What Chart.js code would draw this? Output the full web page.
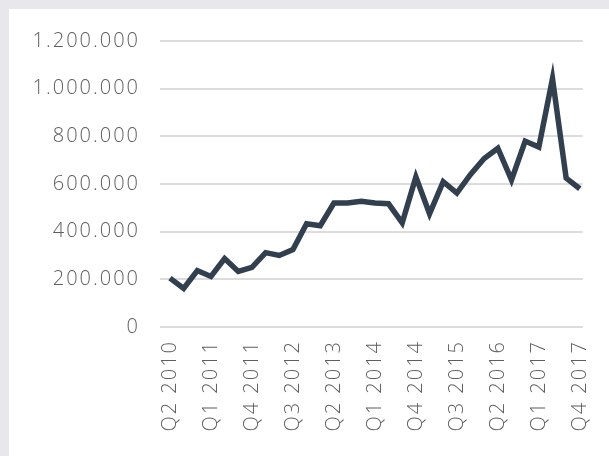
<!DOCTYPE html>
<html lang="de">
<head>
    <meta charset="UTF-8">
    <title>Quarterly values</title>
    <style>
        * { margin: 0; padding: 0; box-sizing: border-box; }
        body { background-color: #e8e7ec; width: 609px; height: 456px; overflow: hidden; }
        .panel {
            position: absolute;
            left: 9px;
            top: 9px;
            width: 600px;
            height: 447px;
            background-color: #ffffff;
        }
        canvas { display: block; }
    </style>
</head>
<body>
    <div class="panel">
        <canvas id="chart" width="600" height="447"></canvas>
    </div>

    <script src="https://cdn.jsdelivr.net/npm/chart.js"></script>
    <script>
        // quarters Q2 2010 .. Q4 2017
        const quarters = [
            'Q2 2010', 'Q3 2010', 'Q4 2010',
            'Q1 2011', 'Q2 2011', 'Q3 2011', 'Q4 2011',
            'Q1 2012', 'Q2 2012', 'Q3 2012', 'Q4 2012',
            'Q1 2013', 'Q2 2013', 'Q3 2013', 'Q4 2013',
            'Q1 2014', 'Q2 2014', 'Q3 2014', 'Q4 2014',
            'Q1 2015', 'Q2 2015', 'Q3 2015', 'Q4 2015',
            'Q1 2016', 'Q2 2016', 'Q3 2016', 'Q4 2016',
            'Q1 2017', 'Q2 2017', 'Q3 2017', 'Q4 2017'
        ];

        const values = [
            205000, 162000, 237000,
            212000, 287000, 233000, 250000,
            312000, 300000, 325000, 433000,
            425000, 520000, 520000, 528000,
            520000, 517000, 437000, 630000,
            475000, 610000, 562000, 640000,
            707000, 750000, 617000, 780000,
            755000, 1042000, 625000, 580000
        ];

        const yTicks = [0, 200000, 400000, 600000, 800000, 1000000, 1200000];
        const labelEvery = 3;

        const textColor = '#5e5e5e';
        const lineColor = '#323f4f';
        const gridColor = '#dcdcdc';

        function formatDots(v) {
            return String(v).replace(/\B(?=(\d{3})+(?!\d))/g, '.');
        }

        // letter spacing to get closer to the wide reference font
        const spacing = {
            id: 'spacing',
            beforeUpdate(chart) { chart.ctx.letterSpacing = '2px'; },
            beforeDraw(chart) { chart.ctx.letterSpacing = '2px'; }
        };

        const points = values.map((v, i) => ({ x: i, y: v }));

        new Chart(document.getElementById('chart'), {
            type: 'line',
            data: {
                datasets: [{
                    data: points,
                    borderColor: lineColor,
                    borderWidth: 5.5,
                    pointRadius: 0,
                    tension: 0,
                    fill: false
                }]
            },
            options: {
                responsive: false,
                animation: false,
                layout: { padding: { top: 22, right: 26, bottom: 0, left: 0 } },
                plugins: {
                    legend: { display: false },
                    tooltip: { enabled: false }
                },
                scales: {
                    x: {
                        type: 'linear',
                        min: -0.73,
                        max: 30.22,
                        grid: { display: false },
                        border: { display: false },
                        afterBuildTicks(scale) {
                            const t = [];
                            for (let i = 0; i < quarters.length; i += labelEvery) t.push({ value: i });
                            scale.ticks = t;
                        },
                        afterFit(scale) { scale.height = 129; },
                        ticks: {
                            autoSkip: false,
                            minRotation: 90,
                            maxRotation: 90,
                            padding: 5,
                            color: textColor,
                            font: { family: "'Open Sans'", size: 20, weight: '300' },
                            callback: (v) => quarters[v] || ''
                        }
                    },
                    y: {
                        min: 0,
                        max: 1200000,
                        afterBuildTicks(scale) {
                            scale.ticks = yTicks.map(v => ({ value: v }));
                        },
                        afterFit(scale) { scale.width = 151; },
                        border: { display: false },
                        grid: {
                            color: gridColor,
                            lineWidth: 2,
                            drawTicks: false
                        },
                        ticks: {
                            padding: 20,
                            color: textColor,
                            font: { family: "'Open Sans'", size: 20, weight: '300' },
                            callback: (v) => formatDots(v)
                        }
                    }
                }
            },
            plugins: [spacing]
        });
    </script>
</body>
</html>
